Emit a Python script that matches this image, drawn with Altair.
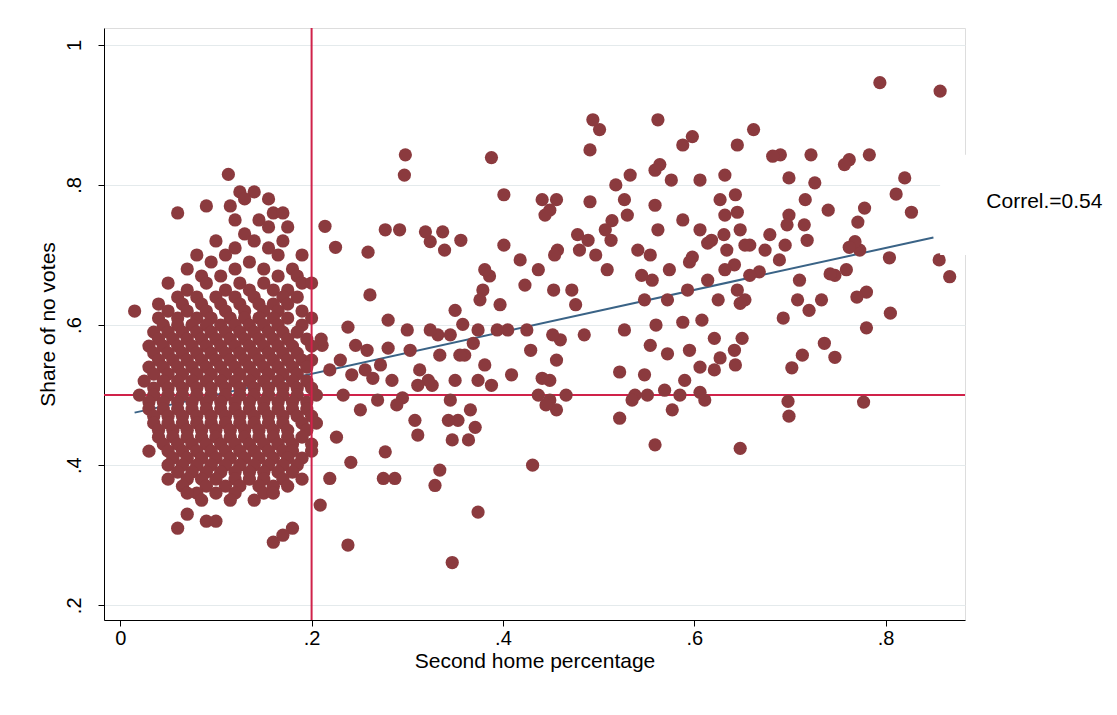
import pandas as pd
import altair as alt

# ---- scattered towns (second home share > ~0.2) ----
sx = [.794, .857, .867, .856, .827, .820, .811, .783, .762, .757, .804, .805, .780, .770, .780, .777,
      .773, .768, .778, .771, .762, .759, .747, .742, .733, .740, .736, .747, .726, .722, .716, .715,
      .718, .710, .708, .720, .713, .699, .699, .697, .695, .689, .693, .702, .698, .699, .690, .682,
      .679, .674, .668, .658, .658, .653, .653, .648, .662, .645, .643, .645, .648, .642, .645, .650,
      .642, .643, .648, .632, .627, .632, .631, .634, .632, .625, .621, .627, .621, .618, .614, .606,
      .606, .614, .608, .606, .611, .606, .598, .595, .593, .588, .595, .590, .585, .598, .588, .588,
      .576, .574, .572, .572, .569, .577, .562, .564, .559, .559, .562, .554, .556, .560, .554, .548,
      .551, .559, .541, .545, .548, .538, .535, .533, .527, .530, .527, .522, .522, .518, .514, .513,
      .509, .507, .501, .494, .491, .491, .489, .485, .497, .480, .478, .476, .472, .466, .460, .456,
      .456, .457, .454, .453, .452, .456, .449, .449, .445, .449, .444, .441, .437, .441, .437, .431,
      .429, .425, .423, .418, .409, .405, .401, .397, .394, .388, .401, .386, .388, .381, .379, .381,
      .376, .374, .369, .374, .366, .371, .364, .374, .360, .355, .350, .358, .356, .350, .345, .353,
      .345, .343, .347, .339, .334, .334, .337, .332, .326, .324, .324, .322, .319, .329, .347, .313,
      .311, .311, .308, .303, .298, .297, .300, .295, .292, .289, .287, .284, .280, .280, .277, .277,
      .275, .272, .269, .264, .261, .259, .258, .256, .251, .246, .242, .241, .238, .238, .233, .230,
      .226, .225, .219, .219, .214, .211, .209]
sy = [.946, .934, .669, .693, .761, .810, .787, .843, .836, .829, .696, .617, .647, .640, .596, .490,
      .707, .719, .767, .747, .711, .679, .671, .673, .636, .764, .574, .554, .803, .843, .779, .743,
      .721, .664, .636, .621, .557, .810, .757, .743, .714, .693, .610, .539, .491, .470, .843, .841,
      .729, .707, .676, .714, .671, .714, .636, .631, .879, .857, .786, .761, .736, .686, .650, .581,
      .564, .543, .424, .814, .779, .757, .729, .707, .679, .636, .581, .553, .536, .721, .664, .807,
      .736, .717, .607, .540, .493, .504, .697, .690, .650, .604, .564, .521, .500, .869, .857, .750,
      .807, .679, .636, .559, .507, .479, .893, .829, .821, .771, .736, .700, .664, .600, .571, .529,
      .500, .429, .707, .671, .636, .500, .493, .814, .779, .757, .593, .533, .467, .800, .749, .721,
      .679, .736, .879, .893, .850, .776, .721, .586, .700, .707, .729, .629, .650, .500, .579, .479,
      .779, .707, .700, .650, .586, .550, .521, .493, .486, .764, .757, .779, .679, .524, .500, .400,
      .564, .593, .657, .693, .529, .593, .714, .629, .593, .839, .786, .670, .514, .679, .650, .543,
      .636, .593, .574, .521, .479, .454, .436, .333, .557, .557, .521, .601, .721, .621, .586, .464,
      .493, .464, .436, .707, .557, .393, .733, .586, .514, .719, .593, .521, .733, .371, .261, .536,
      .514, .443, .464, .564, .843, .814, .593, .496, .736, .486, .381, .521, .607, .567, .736, .419,
      .381, .543, .493, .524, .643, .704, .564, .536, .479, .571, .529, .404, .286, .597, .500, .550,
      .440, .711, .536, .381, .741, .571, .343]

# ---- dense cluster of towns below 0.2, read row by row ----
cluster_rows = {
    .815: [.113], .79: [.14, .125], .78: [.13, .155], .77: [.09, .115], .76: [.06, .16, .17],
    .75: [.145, .12], .74: [.155, .175], .73: [.13], .72: [.10, .17, .14], .71: [.12, .155],
    .70: [.19, .165, .08, .11], .69: [.135, .095], .68: [.07, .18, .12, .15],
    .67: [.085, .105, .165, .185],
    .66: [.05, .09, .15, .19, .20, .125], .65: [.07, .11, .135, .16, .175],
    .64: [.06, .08, .10, .12, .14, .17, .185],
    .63: [.04, .065, .085, .105, .125, .145, .16, .175],
    .62: [.05, .07, .09, .11, .13, .15, .165, .015, .19],
    .61: [.04, .06, .08, .095, .115, .13, .145, .16, .175, .20],
    .60: [.045, .06, .075, .09, .105, .12, .135, .15, .165, .19],
    .59: [.035, .05, .065, .08, .095, .11, .125, .14, .155, .17, .185],
    .58: [.04, .055, .07, .085, .10, .115, .13, .145, .16, .175, .21, .195],
    .57: [.03, .045, .06, .075, .09, .105, .12, .135, .15, .165, .18, .20],
    .56: [.035, .05, .065, .08, .095, .11, .125, .14, .155, .17, .185],
    .55: [.04, .055, .07, .085, .10, .115, .13, .145, .16, .175, .19, .20],
    .54: [.03, .045, .06, .075, .09, .105, .12, .135, .15, .165, .18, .195],
    .53: [.035, .05, .065, .08, .095, .11, .125, .14, .155, .17, .185],
    .52: [.025, .045, .06, .075, .09, .105, .12, .135, .15, .165, .18, .195],
    .51: [.035, .05, .065, .08, .095, .11, .125, .14, .155, .17, .185, .20],
    .50: [.02, .035, .05, .065, .08, .095, .11, .125, .14, .155, .17, .185, .205],
    .49: [.03, .045, .06, .075, .09, .105, .12, .135, .15, .165, .18, .195],
    .48: [.03, .045, .06, .075, .09, .105, .12, .135, .15, .165, .18, .195],
    .47: [.035, .05, .065, .08, .095, .11, .125, .14, .155, .17, .185, .20],
    .46: [.035, .05, .065, .08, .095, .11, .125, .14, .155, .17, .19, .205],
    .45: [.04, .055, .07, .085, .10, .115, .13, .145, .16, .175, .195],
    .44: [.04, .055, .07, .085, .10, .115, .13, .145, .16, .175, .19],
    .43: [.045, .06, .075, .09, .105, .12, .135, .15, .165, .18, .20],
    .42: [.03, .05, .065, .08, .095, .11, .125, .14, .155, .17, .18, .20],
    .41: [.055, .07, .085, .10, .115, .13, .145, .16, .175, .19],
    .40: [.05, .065, .08, .095, .11, .125, .14, .155, .17, .185],
    .39: [.06, .075, .09, .105, .12, .135, .15, .165, .18],
    .38: [.05, .07, .085, .10, .12, .135, .15, .17, .19],
    .37: [.065, .09, .11, .125, .145, .16, .175],
    .36: [.08, .10, .12, .15, .16, .07],
    .35: [.085, .14, .115], .33: [.07], .32: [.09, .10], .31: [.06, .18], .30: [.17], .29: [.16],
}
cx, cy = [], []
for yv, xs in cluster_rows.items():
    for xv in xs:
        cx.append(xv)
        cy.append(yv)

pts = pd.DataFrame({"x": sx + cx, "y": sy + cy})

fit_x = [0.015, 0.85]
fit_y = [0.475, 0.725]

X_DOM = [-0.017, 0.883]
Y_DOM = [0.179, 1.024]
FONT = "Liberation Sans"

lbl = "datum.value == 0 ? '0' : datum.value == 1 ? '1' : replace(format(datum.value, '.1f'), '0.', '.')"

xs = alt.Scale(domain=X_DOM, nice=False, zero=False)
ys = alt.Scale(domain=Y_DOM, nice=False, zero=False)

x_ax = alt.Axis(values=[0, .2, .4, .6, .8], labelExpr=lbl, grid=False, tickSize=6,
                labelFontSize=20, titleFontSize=21, titleFont=FONT, labelFont=FONT,
                labelColor="black", titleColor="black", domainColor="black", tickColor="black",
                titleFontWeight="normal", titlePadding=2)
y_ax = alt.Axis(values=[.2, .4, .6, .8, 1], labelExpr=lbl, grid=True, gridColor="#e4eaec",
                tickSize=6, labelAngle=270, labelAlign="center", labelBaseline="bottom",
                labelPadding=14, labelFontSize=20, titleFontSize=21, titleFont=FONT,
                labelFont=FONT, labelColor="black", titleColor="black", domainColor="black",
                tickColor="black", titleFontWeight="normal", titlePadding=6)

scatter = alt.Chart(pts).mark_circle(size=175, opacity=1, color="#8b3a3e").encode(
    x=alt.X("x:Q", scale=xs, axis=x_ax, title="Second home percentage"),
    y=alt.Y("y:Q", scale=ys, axis=y_ax, title="Share of no votes"),
)

vline = alt.Chart(pd.DataFrame({"x": [0.2]})).mark_rule(color="#d0224a", strokeWidth=2).encode(
    x=alt.X("x:Q", scale=xs))
hline = alt.Chart(pd.DataFrame({"y": [0.5]})).mark_rule(color="#d0224a", strokeWidth=2).encode(
    y=alt.Y("y:Q", scale=ys))

fit = alt.Chart(pd.DataFrame({"x": fit_x, "y": fit_y})).mark_line(
    color="#3a6386", strokeWidth=2).encode(x=alt.X("x:Q", scale=xs), y=alt.Y("y:Q", scale=ys))

box = alt.Chart(pd.DataFrame({"x": [0.857], "x2": [1.06], "y": [0.843], "y2": [0.70]})).mark_rect(
    color="white", clip=False).encode(x=alt.X("x:Q", scale=xs), x2="x2", y=alt.Y("y:Q", scale=ys), y2="y2")
note = alt.Chart(pd.DataFrame({"x": [0.966], "y": [0.776], "t": ["Correl.=0.54"]})).mark_text(
    font=FONT, fontSize=21, color="black", clip=False).encode(
    x=alt.X("x:Q", scale=xs), y=alt.Y("y:Q", scale=ys), text="t:N")

chart = (hline + fit + scatter + vline + box + note).properties(
    width=861, height=592, autosize="none",
    padding={"left": 96, "top": 20, "right": 144, "bottom": 83},
).configure_view(stroke=None).configure(background="white")

chart.save("out.html", embed_options={"renderer": "svg", "actions": False})
